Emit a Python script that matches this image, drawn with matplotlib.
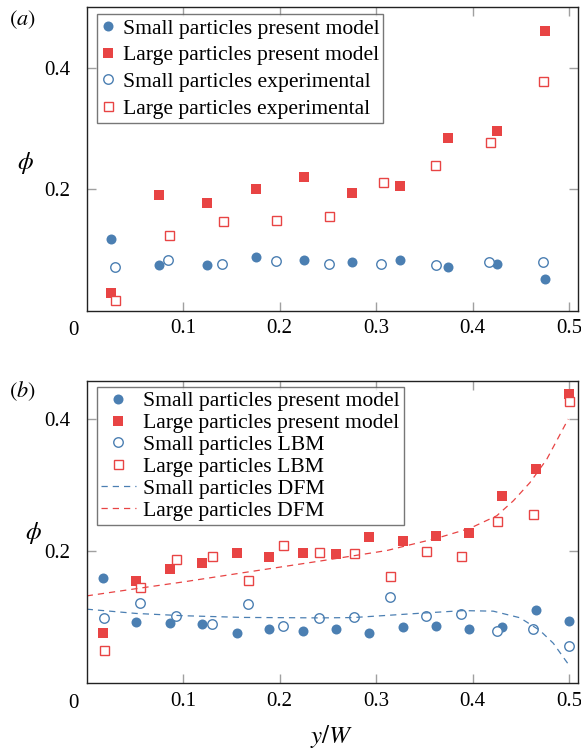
import matplotlib
matplotlib.use("Agg")
import matplotlib.pyplot as plt
from matplotlib.transforms import offset_copy

plt.rcParams['font.family'] = ['Liberation Serif', 'DejaVu Serif']
plt.rcParams['mathtext.fontset'] = 'stix'

BLUE = '#4b7fb2'
RED = '#e84444'

# ---------------- panel (a) data ----------------
a_small_model_x = [0.025, 0.075, 0.125, 0.175, 0.225, 0.275, 0.325, 0.375, 0.425, 0.475]
a_small_model_y = [0.119, 0.075, 0.075, 0.0885, 0.084, 0.080, 0.0835, 0.073, 0.0775, 0.053]
a_large_model_x = [0.025, 0.075, 0.125, 0.175, 0.225, 0.275, 0.325, 0.375, 0.425, 0.475]
a_large_model_y = [0.030, 0.190, 0.1775, 0.2005, 0.220, 0.1934, 0.206, 0.2846, 0.295, 0.4593]
a_small_exp_x = [0.029, 0.084, 0.140, 0.196, 0.251, 0.305, 0.362, 0.417, 0.473]
a_small_exp_y = [0.072, 0.083, 0.078, 0.082, 0.078, 0.078, 0.0753, 0.080, 0.080]
a_large_exp_x = [0.029, 0.0855, 0.141, 0.1965, 0.251, 0.307, 0.361, 0.418, 0.473]
a_large_exp_y = [0.0176, 0.1253, 0.1473, 0.1495, 0.156, 0.212, 0.2396, 0.278, 0.378]

# ---------------- panel (b) data ----------------
b_model_x = [0.017, 0.0516, 0.0862, 0.120, 0.1553, 0.1892, 0.2238, 0.2583, 0.2929,
             0.3275, 0.3617, 0.3963, 0.4309, 0.4654, 0.4997]
b_small_model_y = [0.160, 0.0932, 0.0912, 0.0897, 0.0767, 0.0822, 0.0792, 0.0817, 0.0757,
                   0.0852, 0.0872, 0.0817, 0.0852, 0.1103, 0.0942]
b_large_model_y = [0.0757, 0.1544, 0.1724, 0.182, 0.197, 0.1915, 0.197, 0.1955, 0.221,
                   0.2155, 0.223, 0.228, 0.2837, 0.3238, 0.4376]
b_lbm_x = [0.018, 0.055, 0.0924, 0.1294, 0.1667, 0.2034, 0.2404, 0.2770, 0.3143,
           0.3513, 0.3883, 0.4253, 0.4627, 0.4997]
b_small_lbm_y = [0.0987, 0.1213, 0.1013, 0.0902, 0.1193, 0.0862, 0.0987, 0.1008, 0.1303,
                 0.1023, 0.1048, 0.0792, 0.0822, 0.0566]
b_large_lbm_y = [0.0506, 0.1454, 0.1875, 0.192, 0.1559, 0.210, 0.198, 0.1965, 0.1619,
                 0.200, 0.193, 0.2461, 0.2561, 0.4276]
b_small_dfm_x = [0.0, 0.0516, 0.100, 0.1622, 0.2417, 0.2763, 0.3454, 0.3903, 0.4214,
                 0.4491, 0.4698, 0.4837, 0.4992]
b_small_dfm_y = [0.1122, 0.1057, 0.1023, 0.0997, 0.0990, 0.0995, 0.1060, 0.1100, 0.1092,
                 0.0992, 0.0800, 0.0606, 0.0290]
b_large_dfm_x = [0.0, 0.0516, 0.100, 0.1622, 0.2417, 0.311, 0.3628, 0.3973, 0.425,
                 0.4422, 0.4595, 0.4768, 0.4992]
b_large_dfm_y = [0.1323, 0.1433, 0.1534, 0.1674, 0.1850, 0.2009, 0.2195, 0.2346, 0.2535,
                 0.2761, 0.3038, 0.3388, 0.400]

xticks = [0.1, 0.2, 0.3, 0.4, 0.5]
xticklabels = ['0.1', '0.2', '0.3', '0.4', '0.5']
yticks = [0.2, 0.4]
yticklabels = ['0.2', '0.4']

FS = 15
LFS = 15.6
fig = plt.figure(figsize=(5.81, 7.5), dpi=100)
W, H = 581.0, 750.0
axa = fig.add_axes([86.7 / W, 1 - 311 / H, (578 - 86.7) / W, (311 - 6.7) / H])
axb = fig.add_axes([86.7 / W, 1 - 683.3 / H, (578 - 86.7) / W, (683.3 - 380.7) / H])

ms = 7.2
kw_f = dict(linestyle='none', markeredgewidth=0)
kw_o = dict(linestyle='none', markerfacecolor='white', markeredgewidth=1.0)

axa.plot(a_small_model_x, a_small_model_y, 'o', color=BLUE, ms=ms, label='Small particles present model', **kw_f)
axa.plot(a_large_model_x, a_large_model_y, 's', color=RED, ms=ms * 0.95, label='Large particles present model', **kw_f)
axa.plot(a_small_exp_x, a_small_exp_y, 'o', color=BLUE, mec=BLUE, ms=ms * 0.95, label='Small particles experimental', **kw_o)
axa.plot(a_large_exp_x, a_large_exp_y, 's', color=RED, mec=RED, ms=ms * 0.9, label='Large particles experimental', **kw_o)

axb.plot(b_model_x, b_small_model_y, 'o', color=BLUE, ms=ms, label='Small particles present model', **kw_f)
axb.plot(b_model_x, b_large_model_y, 's', color=RED, ms=ms * 0.95, label='Large particles present model', **kw_f)
axb.plot(b_lbm_x, b_small_lbm_y, 'o', color=BLUE, mec=BLUE, ms=ms * 0.95, label='Small particles LBM', **kw_o)
axb.plot(b_lbm_x, b_large_lbm_y, 's', color=RED, mec=RED, ms=ms * 0.9, label='Large particles LBM', **kw_o)
axb.plot(b_small_dfm_x, b_small_dfm_y, '--', color=BLUE, lw=0.9, dashes=(5, 4), label='Small particles DFM')
axb.plot(b_large_dfm_x, b_large_dfm_y, '--', color=RED, lw=0.9, dashes=(5, 4), label='Large particles DFM')

phi_pos = {axa: (-0.1256, 0.486), axb: (-0.109, 0.497)}
for ax, ylim in ((axa, (0, 0.5)), (axb, (0, 0.458))):
    ax.set_xlim(0, 0.5093)
    ax.set_ylim(*ylim)
    ax.set_xticks(xticks)
    ax.set_xticklabels(xticklabels)
    ax.set_yticks(yticks)
    ax.set_yticklabels(yticklabels)
    ax.tick_params(direction='in', top=True, right=True, length=6.5, width=1.0,
                   color='#a0a0a0', labelsize=FS)
    ax.tick_params(axis='y', pad=12)
    ax.tick_params(axis='x', pad=6)
    for sp in ax.spines.values():
        sp.set_linewidth(1.0)
        sp.set_color('#222222')
    ax.text(-0.027, 0, '0', transform=offset_copy(ax.transAxes, fig=fig, x=0, y=-7.5, units='points'),
            ha='center', va='top', fontsize=FS)
    px, py = phi_pos[ax]
    ax.text(px, py, r'$\phi$', transform=ax.transAxes, ha='center', va='center', fontsize=FS + 3)

axa.text(22 / W, 1 - 20 / H, r'$(a)$', transform=fig.transFigure, ha='center', va='center', fontsize=FS + 1)
axb.text(22 / W, 1 - 391 / H, r'$(b)$', transform=fig.transFigure, ha='center', va='center', fontsize=FS + 1)
fig.text(332 / W, 1 - 737 / H, r'$y/W$', ha='center', va='center', fontsize=FS + 3)

la = axa.legend(loc='upper left', bbox_to_anchor=(0.02, 0.976), fontsize=LFS, frameon=True, fancybox=False,
                borderpad=0.2, labelspacing=0.3, handletextpad=0.3, handlelength=0.7,
                borderaxespad=0)
la.get_frame().set_edgecolor('#555555')
la.get_frame().set_linewidth(1.0)
lb = axb.legend(loc='upper left', bbox_to_anchor=(0.02, 0.98), fontsize=LFS, frameon=True, fancybox=False,
                borderpad=0.2, labelspacing=0.08, handletextpad=0.33, handlelength=1.6,
                borderaxespad=0)
lb.get_frame().set_edgecolor('#555555')
lb.get_frame().set_linewidth(1.0)

fig.savefig('out.png', dpi=100)
